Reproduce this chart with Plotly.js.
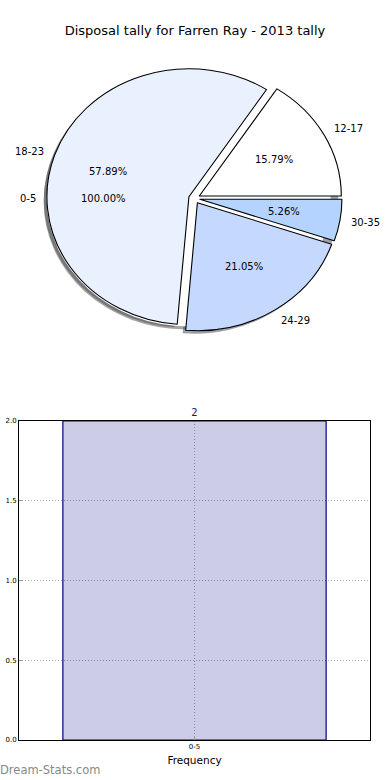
<!DOCTYPE html>
<html>
<head>
<meta charset="utf-8">
<script src="https://cdn.plot.ly/plotly-3.0.1.min.js"></script>
<style>
html,body{margin:0;padding:0;background:#fff;}
#chart{width:390px;height:780px;}
</style>
</head>
<body>
<div id="chart"></div>
<script>
// ---- data ----
const titleText = 'Disposal tally for Farren Ray - 2013 tally';
const ageGroups = ['12-17', '18-23', '24-29', '30-35'];
const disposals = [3, 11, 4, 1];
const barCategories = ['0-5'];
const barValues = [2];
const barAxisTitle = 'Frequency';
const watermark = 'Dream-Stats.com';
const yTickVals = [0, 0.5, 1.0, 1.5, 2.0];

// ---- styles / geometry ----
const sliceColors = ['#ffffff', '#eaf1fe', '#c5d8fe', '#b4d4ff'];
const FONT = 'DejaVu Sans, sans-serif';
const M = {l: 19, r: 20, t: 0, b: 40};
const PW = 390 - M.l - M.r, PH = 780 - M.t - M.b;
const fx = px => (px - M.l) / PW;
const fy = py => (M.t + PH - py) / PH;
const CX = 194.3, CY = 198.4, RX = 142, RY = 128, PULL = 0.04;
const RX_LABEL = 139;
const R = RY, SX = RX / RY;
const half = R * (1 + PULL);
function domainAt(dxPx, dyPx) {
  return {x: [fx(CX + dxPx - half), fx(CX + dxPx + half)],
          y: [fy(CY + dyPx + half), fy(CY + dyPx - half)]};
}
function shadowOf(hex) {
  const n = parseInt(hex.slice(1), 16);
  const r = Math.round(((n >> 16) & 255) * 0.3), g = Math.round(((n >> 8) & 255) * 0.3), b = Math.round((n & 255) * 0.3);
  return 'rgba(' + r + ',' + g + ',' + b + ',0.5)';
}
const total = disposals.reduce((a, b) => a + b, 0);
const mainRotation = 90 - 360 * disposals[0] / total;
const shDx = -3 / SX, shDy = 3;

const traces = [
  // shadow of single-slice pie
  {type: 'pie', labels: barCategories, values: barValues, sort: false, direction: 'counterclockwise',
   rotation: 90, pull: barValues.map(() => PULL), domain: domainAt(shDx, shDy),
   marker: {colors: [shadowOf('#ffffff')], line: {width: 0}}, textinfo: 'none', hoverinfo: 'skip', showlegend: false},
  // shadow of main pie
  {type: 'pie', labels: ageGroups, values: disposals, sort: false, direction: 'counterclockwise',
   rotation: mainRotation, pull: disposals.map(() => PULL), domain: domainAt(shDx, shDy),
   marker: {colors: sliceColors.map(shadowOf), line: {width: 0}}, textinfo: 'none', hoverinfo: 'skip', showlegend: false},
  // single-slice pie (white)
  {type: 'pie', labels: barCategories, values: barValues, sort: false, direction: 'counterclockwise',
   rotation: 90, pull: barValues.map(() => PULL), domain: domainAt(0, 0),
   marker: {colors: ['#ffffff'], line: {width: 0}}, textinfo: 'none', hoverinfo: 'skip', showlegend: false},
  // main pie
  {type: 'pie', labels: ageGroups, values: disposals, sort: false, direction: 'counterclockwise',
   rotation: mainRotation, pull: disposals.map(() => PULL), domain: domainAt(0, 0),
   marker: {colors: sliceColors, line: {width: 1, color: '#000000'}}, textinfo: 'none', hoverinfo: 'skip', showlegend: false},
  // bar chart
  {type: 'bar', x: barCategories, y: barValues, width: 0.75,
   marker: {color: 'rgba(0,0,128,0.2)', line: {color: '#000080', width: 1.2}},
   text: barValues.map(v => String(v)), textposition: 'outside', cliponaxis: false,
   outsidetextfont: {family: FONT, size: 10, color: '#1a1a66'},
   xaxis: 'x', yaxis: 'y', showlegend: false, hoverinfo: 'skip'}
];

// pie text annotations (matplotlib-like placement)
const annotations = [];
function pieTexts(labels, values, startDeg) {
  const sum = values.reduce((a, b) => a + b, 0);
  let a = startDeg;
  labels.forEach((lab, i) => {
    const span = 360 * values[i] / sum;
    const mid = (a + span / 2) * Math.PI / 180;
    a += span;
    const c = Math.cos(mid), s = Math.sin(mid);
    const pct = (100 * values[i] / sum).toFixed(2) + '%';
    annotations.push({xref: 'paper', yref: 'paper', x: fx(CX), y: fy(CY),
      xshift: (0.6 + PULL) * RX * c, yshift: (0.6 + PULL) * RY * s,
      text: pct, showarrow: false, xanchor: 'center', yanchor: 'middle', borderpad: 0, borderwidth: 0,
      font: {family: FONT, size: 10, color: '#000'}});
    annotations.push({xref: 'paper', yref: 'paper', x: fx(CX), y: fy(CY),
      xshift: (1.1 + PULL) * RX_LABEL * c, yshift: (1.1 + PULL) * RY * s,
      text: lab, showarrow: false, xanchor: c > 0 ? 'left' : 'right', yanchor: 'middle', borderpad: 0, borderwidth: 0,
      font: {family: FONT, size: 10, color: '#000'}});
  });
}
pieTexts(barCategories, barValues, 0);
pieTexts(ageGroups, disposals, 0);

annotations.push({xref: 'paper', yref: 'paper', x: fx(0), y: fy(770), xanchor: 'left', yanchor: 'middle',
  borderpad: 0, borderwidth: 0,
  text: watermark, showarrow: false, font: {family: FONT, size: 11.5, color: '#888888'}});

const layout = {
  width: 390, height: 780,
  margin: M,
  paper_bgcolor: '#ffffff', plot_bgcolor: '#ffffff',
  font: {family: FONT, color: '#000'},
  title: {text: titleText, font: {family: FONT, size: 13, color: '#000'},
          x: 0.5, xanchor: 'center', y: 1 - 30 / 780, yanchor: 'middle'},
  showlegend: false,
  xaxis: {type: 'category', range: [-0.5, 0.5], showline: true, mirror: true, linecolor: '#000', linewidth: 1,
          ticks: 'inside', ticklen: 4, tickcolor: '#999', showgrid: true, gridcolor: '#aaaaaa', griddash: '1px,2px',
          tickfont: {family: FONT, size: 7, color: '#000'}, zeroline: false, fixedrange: true,
          title: {text: barAxisTitle, font: {family: FONT, size: 10.5, color: '#000'}, standoff: 6}},
  yaxis: {domain: [0, fy(421)], range: [0, 2], tickvals: yTickVals, tickformat: '.1f',
          showline: true, mirror: true, linecolor: '#000', linewidth: 1,
          ticks: 'inside', ticklen: 4, tickcolor: '#999', showgrid: true, gridcolor: '#aaaaaa', griddash: '1px,2px',
          tickfont: {family: FONT, size: 7, color: '#000'}, zeroline: false, fixedrange: true},
  annotations: annotations
};

const style = document.createElement('style');
style.textContent = '.pielayer{transform-origin:' + CX + 'px ' + CY + 'px;transform:scale(' + SX + ',1);}';
document.head.appendChild(style);

Plotly.newPlot('chart', traces, layout, {displayModeBar: false, staticPlot: true});
</script>
</body>
</html>
